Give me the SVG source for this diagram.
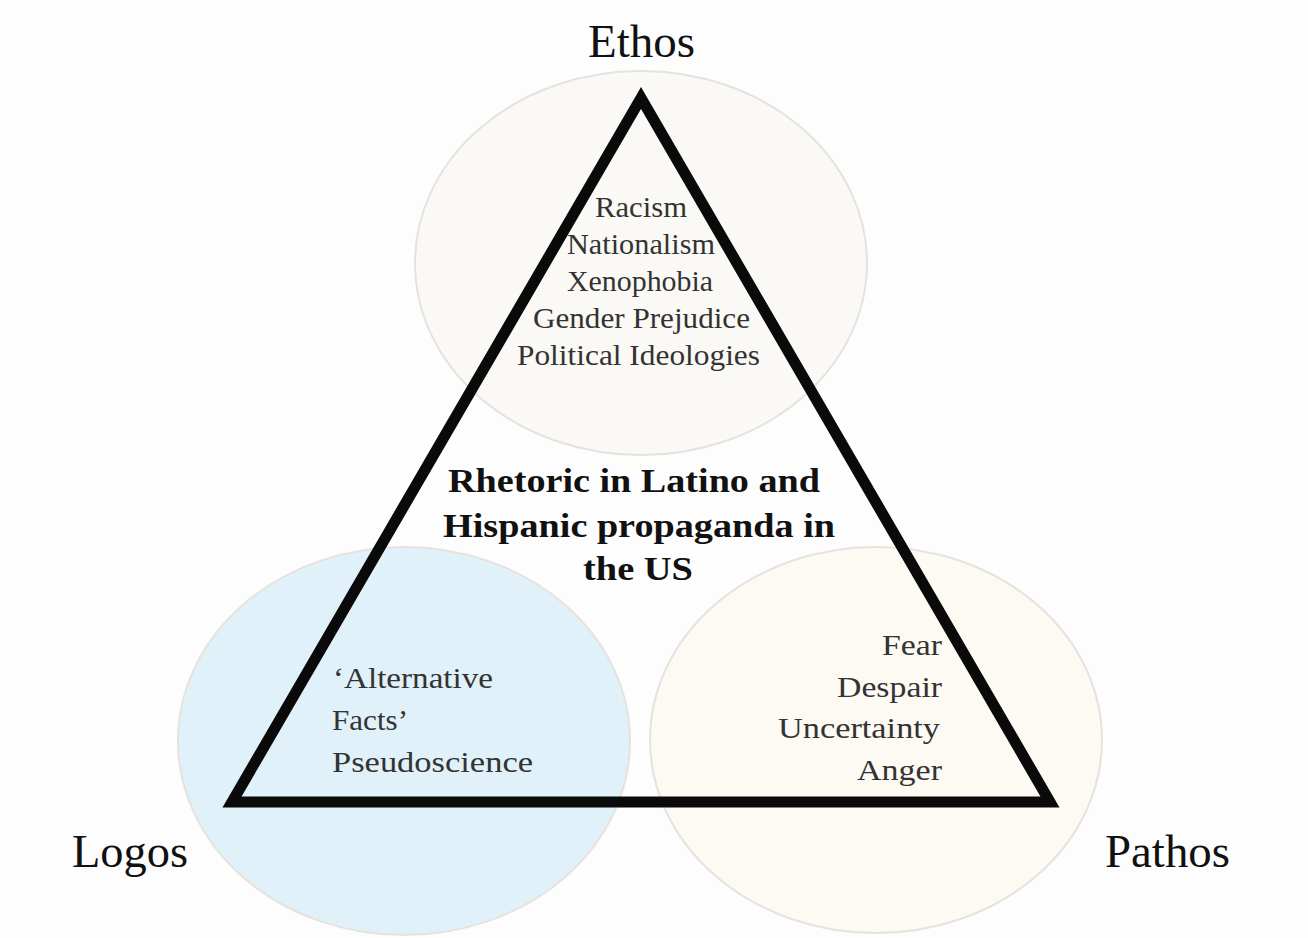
<svg xmlns="http://www.w3.org/2000/svg" width="1308" height="938" viewBox="0 0 1308 938">
  <style>
    .lbl{font-family:"Liberation Serif","Times New Roman",serif;font-size:46px;fill:#111}
    .item{font-family:"Liberation Serif","Times New Roman",serif;font-size:30px;fill:#333}
    .title{font-family:"Liberation Serif","Times New Roman",serif;font-size:34px;font-weight:bold;fill:#111}
    .circ{stroke:#e6e2de;stroke-width:2}
  </style>
  <rect width="1308" height="938" fill="#fdfdfd"/>
  <g id="ethos">
    <ellipse class="circ" cx="641" cy="263" rx="226" ry="192" fill="#fbf9f6"/>
    <text class="lbl" x="588" y="57" textLength="107" lengthAdjust="spacingAndGlyphs">Ethos</text>
  </g>
  <g id="logos">
    <ellipse class="circ" cx="404" cy="741" rx="226" ry="194" fill="#e1f1f9"/>
    <text class="lbl" x="72" y="867" textLength="116" lengthAdjust="spacingAndGlyphs">Logos</text>
  </g>
  <g id="pathos">
    <ellipse class="circ" cx="876" cy="740" rx="226" ry="193" fill="#fcfaf2"/>
    <text class="lbl" x="1105" y="867" textLength="125" lengthAdjust="spacingAndGlyphs">Pathos</text>
  </g>
  <g id="connectors">
    <polygon points="641,98 232,802 1050,802" fill="none" stroke="#0a0a0a" stroke-width="11" stroke-linejoin="miter" stroke-miterlimit="10"/>
  </g>
  <g id="ethos-items">
    <text class="item" x="595" y="217" textLength="92" lengthAdjust="spacingAndGlyphs">Racism</text>
    <text class="item" x="567" y="254" textLength="148" lengthAdjust="spacingAndGlyphs">Nationalism</text>
    <text class="item" x="567" y="291" textLength="146" lengthAdjust="spacingAndGlyphs">Xenophobia</text>
    <text class="item" x="533" y="328" textLength="217" lengthAdjust="spacingAndGlyphs">Gender Prejudice</text>
    <text class="item" x="517" y="365" textLength="243" lengthAdjust="spacingAndGlyphs">Political Ideologies</text>
  </g>
  <g id="center">
    <text class="title" x="448" y="492" textLength="372" lengthAdjust="spacingAndGlyphs">Rhetoric in Latino and</text>
    <text class="title" x="443" y="537" textLength="392" lengthAdjust="spacingAndGlyphs">Hispanic propaganda in</text>
    <text class="title" x="583" y="580" textLength="110" lengthAdjust="spacingAndGlyphs">the US</text>
  </g>
  <g id="logos-items">
    <text class="item" x="333" y="688" textLength="160" lengthAdjust="spacingAndGlyphs">‘Alternative</text>
    <text class="item" x="332" y="730" textLength="76" lengthAdjust="spacingAndGlyphs">Facts’</text>
    <text class="item" x="332" y="772" textLength="201" lengthAdjust="spacingAndGlyphs">Pseudoscience</text>
  </g>
  <g id="pathos-items">
    <text class="item" x="882" y="655" textLength="60" lengthAdjust="spacingAndGlyphs">Fear</text>
    <text class="item" x="837" y="697" textLength="105" lengthAdjust="spacingAndGlyphs">Despair</text>
    <text class="item" x="778" y="738" textLength="162" lengthAdjust="spacingAndGlyphs">Uncertainty</text>
    <text class="item" x="857" y="780" textLength="85" lengthAdjust="spacingAndGlyphs">Anger</text>
  </g>
</svg>
